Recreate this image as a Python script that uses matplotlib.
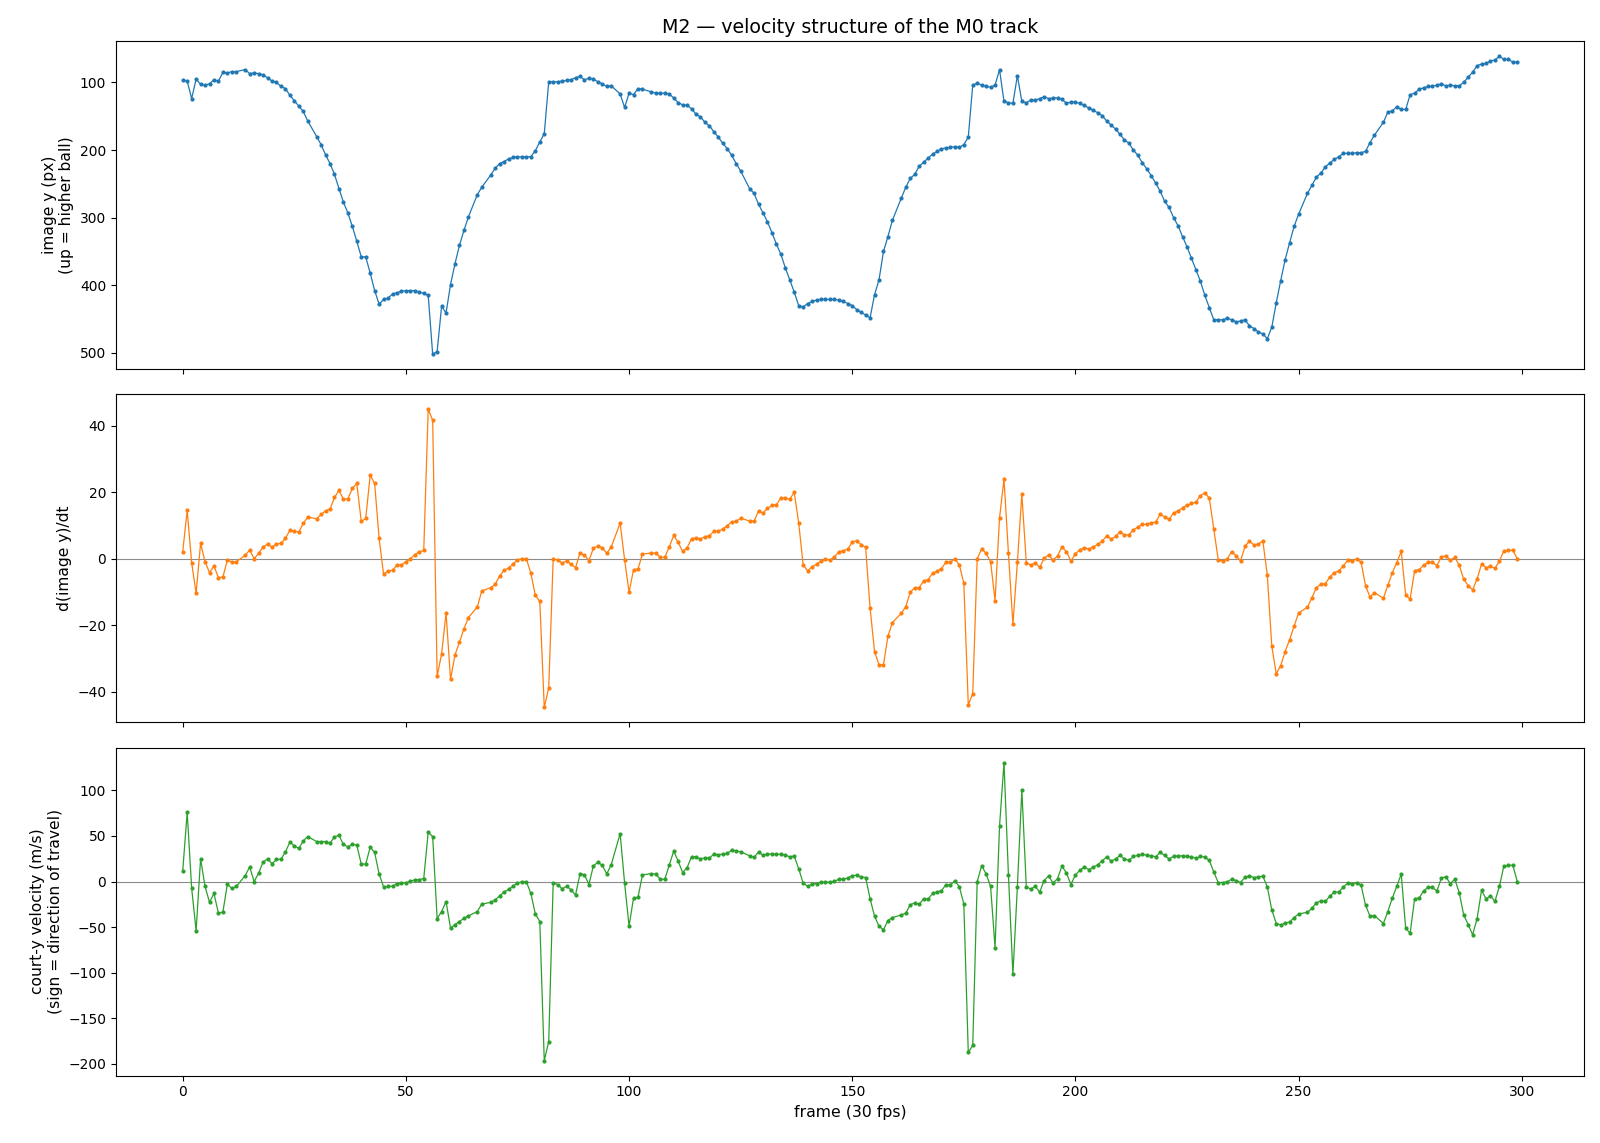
import numpy as np
import matplotlib
matplotlib.use("Agg")
import matplotlib.pyplot as plt

N = None
# image y (px) per frame 0..299 (None = frame not tracked)
image_y = [
    96, 98, 124, 95, 103, 104, 102, 96, 98, 85,
    86, 84, 84, N, 81, 87, 86, 87, 89, 93,
    98, 100, 106, 109, 119, 127, 135, 143, 157, N,
    180, 192, 207, 220, 236, 257, 277, 293, 313, 335,
    358, 358, 382, 408, 428, 421, 419, 413, 411, 409,
    408, 408, 408, 410, 412, 415, 502, 498, 431, 441,
    399, 368, 341, 319, 299, N, 266, 255, N, 237,
    227, 220, 217, 213, 211, 210, 210, 210, 210, 201,
    188, 176, 99, 99, 99, 98, 97, 96, 93, 91,
    96, 94, 95, 99, 102, 106, 105, N, 117, 137,
    116, 118, 109, 110, N, 114, 116, 116, 116, 117,
    123, 130, 133, 134, 139, 147, 151, 159, 164, 173,
    181, 190, 198, 208, 220, 231, N, 257, 264, 280,
    293, 306, 322, 339, 354, 374, 392, 410, 430, 432,
    427, 424, 422, 421, 421, 421, 421, 422, 424, 427,
    430, 436, 440, 444, 448, 414, 392, 350, 328, 304,
    N, 271, 255, 242, 236, 224, 218, 212, 206, 202,
    198, 197, 196, 195, 196, 192, 181, 104, 101, 104,
    106, 107, 104, 81, 128, 130, 131, 90, 128, 130,
    126, 126, 124, 121, 124, 123, 123, 125, 131, 129,
    129, 131, 134, 138, 141, 145, 149, 157, 163, 169,
    177, 185, 190, 200, 208, 219, 228, 238, 249, 261,
    276, 285, 300, 312, 328, 343, 360, 377, 394, 415,
    433, 451, 451, 451, 449, 451, 454, 453, 451, 460,
    464, 469, 472, 479, 462, 426, 393, 362, 337, 313,
    295, N, 264, 252, 240, 234, 225, 219, 214, 210,
    205, 205, 205, 204, 204, 202, 189, 178, N, 159,
    144, 142, 136, 140, 140, 118, 116, 110, 108, 106,
    106, 104, 102, 105, 104, 105, 105, 100, 92, 85,
    75, 73, 72, 68, 67, 61, 66, 66, 70, 70,
]

# d(image y)/dt per frame
dy_dt = [
    2.1, 14.5, -1.2, -10.4, 4.6, -0.9, -4.2, -2.2, -5.7, -5.5,
    -0.4, -1.0, -0.9, N, 1.0, 2.6, 0.0, 1.6, 3.5, 4.4,
    3.5, 4.4, 4.6, 6.1, 8.5, 8.3, 8.0, 10.6, 12.5, N,
    12.0, 13.3, 14.4, 14.9, 18.4, 20.5, 17.9, 18.0, 21.1, 22.6,
    11.2, 12.1, 25.1, 22.6, 6.1, -4.7, -3.7, -3.5, -1.9, -1.9,
    -0.9, 0.0, 1.2, 2.1, 2.5, 44.9, 41.6, -35.4, -28.6, -16.2,
    -36.3, -28.9, -25.1, -21.1, -17.7, N, -14.5, -9.7, N, -8.7,
    -7.7, -5.2, -3.5, -2.8, -1.6, -0.4, 0.0, 0.0, -4.4, -11.0,
    -12.8, -44.7, -38.8, 0.0, -0.4, -1.3, -0.7, -1.7, -2.7, 1.7,
    1.1, -0.6, 3.1, 3.8, 3.3, 1.6, 3.5, N, 10.7, -0.3,
    -10.1, -3.3, -3.1, 1.4, N, 1.7, 1.7, 0.4, 0.4, 3.5,
    7.0, 4.9, 2.2, 3.3, 6.0, 6.2, 5.9, 6.6, 6.9, 8.2,
    8.3, 8.9, 9.9, 11.1, 11.2, 12.2, N, 11.3, 11.2, 14.4,
    13.7, 15.1, 16.0, 16.2, 18.2, 18.2, 17.9, 19.9, 10.8, -1.8,
    -3.7, -2.4, -1.7, -0.7, -0.2, -0.4, 0.5, 2.1, 2.4, 2.9,
    5.0, 5.4, 4.2, 3.4, -14.8, -27.9, -31.9, -31.9, -23.3, -19.2,
    N, -16.4, -14.4, -10.1, -8.7, -8.7, -6.7, -6.3, -4.4, -3.8,
    -3.0, -1.0, -1.0, 0.0, -1.9, -7.4, -43.9, -40.6, 0.0, 3.0,
    1.6, -0.9, -12.6, 12.2, 23.9, 1.6, -19.7, -1.1, 19.3, -1.2,
    -1.9, -1.2, -2.6, 0.1, 1.2, -0.4, 0.8, 3.6, 2.1, -0.7,
    1.5, 2.7, 3.3, 2.9, 3.5, 4.3, 5.3, 6.8, 5.9, 6.7,
    8.1, 7.1, 7.2, 8.7, 9.5, 10.4, 10.3, 10.8, 11.0, 13.4,
    12.5, 11.8, 13.8, 14.3, 15.3, 16.1, 16.6, 17.0, 18.9, 19.8,
    18.2, 8.9, -0.3, -0.8, -0.1, 2.1, 0.9, -0.7, 3.7, 5.3,
    4.1, 4.4, 5.3, -5.0, -26.3, -34.6, -32.1, -27.9, -24.3, -20.3,
    -16.3, N, -14.6, -11.7, -8.7, -7.7, -7.5, -5.5, -4.2, -3.7,
    -2.2, -0.5, -0.6, -0.1, -1.0, -8.1, -11.5, -10.2, N, -11.9,
    -8.0, -4.2, -1.2, 2.2, -11.0, -12.1, -3.6, -3.3, -2.0, -1.1,
    -1.1, -2.1, 0.6, 0.8, -0.4, 0.4, -2.0, -6.2, -8.1, -9.4,
    -6.1, -1.6, -2.7, -2.3, -2.9, -0.7, 2.4, 2.5, 2.5, 0.0,
]

# court-y velocity (m/s) per frame
court_vy = [
    11.6, 75.9, -7.3, -54.1, 25.0, -5.4, -22.9, -13.1, -34.8, -33.4,
    -2.9, -7.6, -5.4, N, 6.5, 16.0, 0.0, 9.1, 21.4, 25.0,
    19.6, 24.3, 24.7, 32.3, 43.2, 39.2, 36.3, 44.6, 49.4, N,
    43.9, 43.9, 43.9, 42.1, 49.0, 50.8, 40.7, 38.1, 41.0, 39.9,
    19.2, 19.2, 37.7, 31.9, 8.3, -5.8, -5.4, -5.1, -2.2, -1.8,
    -1.5, 0.4, 1.8, 2.2, 3.3, 54.1, 49.4, -40.7, -33.0, -22.1,
    -51.2, -47.2, -43.9, -40.3, -37.7, N, -33.0, -24.7, N, -22.9,
    -20.3, -15.6, -11.6, -8.7, -5.1, -1.5, -0.4, -0.4, -13.1, -35.6,
    -43.9, -196.7, -175.7, -1.1, -3.3, -8.0, -5.1, -9.1, -14.9, 8.3,
    7.6, -3.3, 17.1, 21.1, 17.8, 8.3, 18.5, N, 52.6, -1.5,
    -49.0, -18.1, -17.4, 7.3, N, 8.7, 8.0, 2.5, 2.5, 17.8,
    33.4, 22.5, 9.8, 15.2, 27.2, 26.9, 25.0, 25.8, 25.8, 30.1,
    29.4, 30.1, 30.9, 34.5, 33.4, 32.7, N, 28.3, 26.5, 32.3,
    29.0, 30.1, 30.1, 29.8, 30.1, 29.0, 27.2, 27.9, 14.2, -1.8,
    -5.1, -2.9, -2.2, -0.7, -0.7, -0.7, 0.3, 2.5, 2.5, 4.0,
    6.5, 6.9, 5.1, 4.4, -18.9, -38.1, -49.0, -53.0, -42.8, -39.6,
    N, -36.7, -34.8, -25.4, -23.6, -25.0, -18.9, -19.2, -13.1, -11.3,
    -10.2, -3.3, -3.6, 0.7, -5.8, -24.7, -187.7, -180.0, 0.0, 17.4,
    8.3, -5.4, -72.6, 60.6, 130.7, 6.9, -102.0, -5.8, 100.5, -5.8,
    -8.3, -5.4, -11.6, 1.1, 6.2, -1.8, 3.3, 17.1, 9.1, -3.3,
    7.3, 12.3, 16.0, 13.1, 15.6, 18.5, 22.5, 27.2, 22.5, 24.7,
    28.7, 24.7, 23.2, 27.6, 28.7, 30.1, 28.7, 28.3, 27.2, 31.9,
    28.7, 24.7, 27.9, 27.9, 28.3, 27.6, 27.2, 25.4, 27.6, 26.9,
    23.2, 10.5, -1.1, -1.1, -0.4, 2.5, 1.1, -1.1, 4.7, 6.2,
    4.4, 5.1, 5.8, -5.8, -31.2, -46.1, -47.5, -45.7, -44.3, -39.6,
    -35.6, N, -33.8, -29.4, -23.2, -21.4, -21.8, -16.0, -11.6, -11.6,
    -6.2, -1.8, -2.5, -1.1, -4.0, -25.8, -38.1, -37.4, N, -46.1,
    -33.0, -18.1, -5.4, 8.3, -51.5, -56.6, -18.9, -18.1, -10.5, -6.2,
    -6.5, -10.5, 4.0, 5.1, -2.2, 2.5, -12.3, -36.7, -47.2, -58.4,
    -40.7, -9.4, -19.2, -15.6, -21.8, -5.1, 17.1, 17.8, 17.8, 0.0,
]


def tracked(values):
    fr = [i for i, v in enumerate(values) if v is not None]
    vv = [v for v in values if v is not None]
    return np.array(fr), np.array(vv, dtype=float)


fig, axes = plt.subplots(3, 1, figsize=(16, 11.43), dpi=100, sharex=True)
fig.subplots_adjust(left=0.0725, right=0.99, top=0.964, bottom=0.059, hspace=0.077)

series = [
    (image_y, "C0", "image y (px)\n(up = higher ball)"),
    (dy_dt, "C1", "d(image y)/dt"),
    (court_vy, "C2", "court-y velocity (m/s)\n(sign = direction of travel)"),
]

for ax, (vals, col, lab) in zip(axes, series):
    fr, vv = tracked(vals)
    ax.plot(fr, vv, "-o", color=col, lw=0.9, ms=2)
    ax.set_ylabel(lab, fontsize=11.2)
    ax.tick_params(labelsize=10)

axes[0].invert_yaxis()
axes[1].axhline(0, color="0.55", lw=0.8, zorder=0)
axes[2].axhline(0, color="0.55", lw=0.8, zorder=0)
axes[0].set_title("M2 \u2014 velocity structure of the M0 track", fontsize=13.7)
axes[2].set_xlabel("frame (30 fps)", fontsize=11.3)

fig.savefig("out.png", dpi=100)
